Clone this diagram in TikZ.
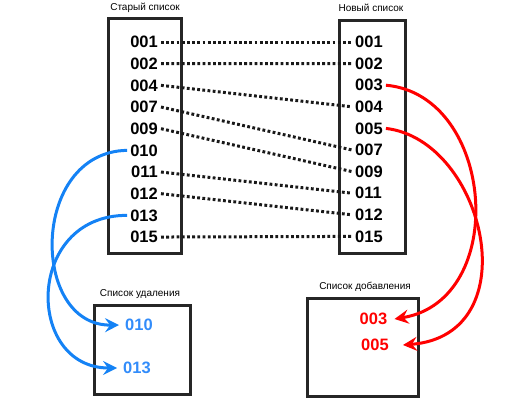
\documentclass[tikz,border=0pt]{standalone}
\usepackage{fontspec}
\setmainfont{Liberation Sans}
\usetikzlibrary{arrows.meta}
\definecolor{myblue}{RGB}{20,130,245}
\definecolor{txtblue}{RGB}{50,140,250}
\begin{document}
\begin{tikzpicture}[x=1pt,y=-1pt,
  num/.style={font=\fontsize{16.5}{18}\selectfont\bfseries, inner sep=3pt},
  ttl/.style={font=\fontsize{10}{12}\selectfont, inner sep=1pt},
  listbox/.style={draw=black!85, line width=2.5pt, anchor=north west, inner sep=0pt},
  dots/.style={black!90, line width=3pt, dash pattern=on 2.8pt off 2.4pt},
  delarrow/.style={myblue, line width=3pt, -{Stealth[length=14pt,width=14pt,inset=5pt]}},
  addarrow/.style={red, line width=3pt, -{Stealth[length=14pt,width=14pt,inset=5pt]}}
]
\useasboundingbox (0,0) rectangle (521,400);
% boxes
\node[listbox, minimum width=73pt, minimum height=235pt] (oldbox) at (107,17) {};
\node[listbox, minimum width=66pt, minimum height=233pt] (newbox) at (338,19) {};
\node[listbox, minimum width=96pt, minimum height=89pt] (delbox) at (93,304) {};
\node[listbox, minimum width=111pt, minimum height=98pt] (addbox) at (306,297) {};
% titles
\node[ttl] (oldt) at (145,8) {Старый список};
\node[ttl] (newt) at (371,8) {Новый список};
\node[ttl] (delt) at (140,294) {Список удаления};
\node[ttl] (addt) at (365,287) {Список добавления};
% old list
\foreach \t [count=\i] in {001,002,004,007,009,010,011,012,013,015}
  \node[num, anchor=east] (o\t) at (161,{42+21.67*(\i-1)}) {\t};
% new list
\foreach \t [count=\i] in {001,002,003,004,005,007,009,011,012,015}
  \node[num, anchor=west] (n\t) at (352,{42+21.6*(\i-1)}) {\t};
% dotted connections
\foreach \t in {001,002,004,007,009,011,012,015}
  \draw[dots] (o\t.east) -- (n\t.west);
% delete list
\node[num, text=txtblue, inner sep=6pt] (d010) at (139,325) {010};
\node[num, text=txtblue, inner sep=6pt] (d013) at (137,368) {013};
% add list
\node[num, text=red, inner sep=7pt] (a003) at (373.5,319) {003};
\node[num, text=red, inner sep=14pt] (a005) at (375,345) {005};
% arrows
\draw[delarrow] (o010.west) .. controls (30,152) and (30,326) .. (d010.west);
\draw[delarrow] (o013.west) .. controls (25,215) and (25,368) .. (d013.west);
\draw[addarrow] (n003.east) .. controls (495,95) and (510,300) .. (a003.east);
\draw[addarrow] (n005.east) .. controls (485,140) and (530,335) .. (a005.east);
\end{tikzpicture}
\end{document}
